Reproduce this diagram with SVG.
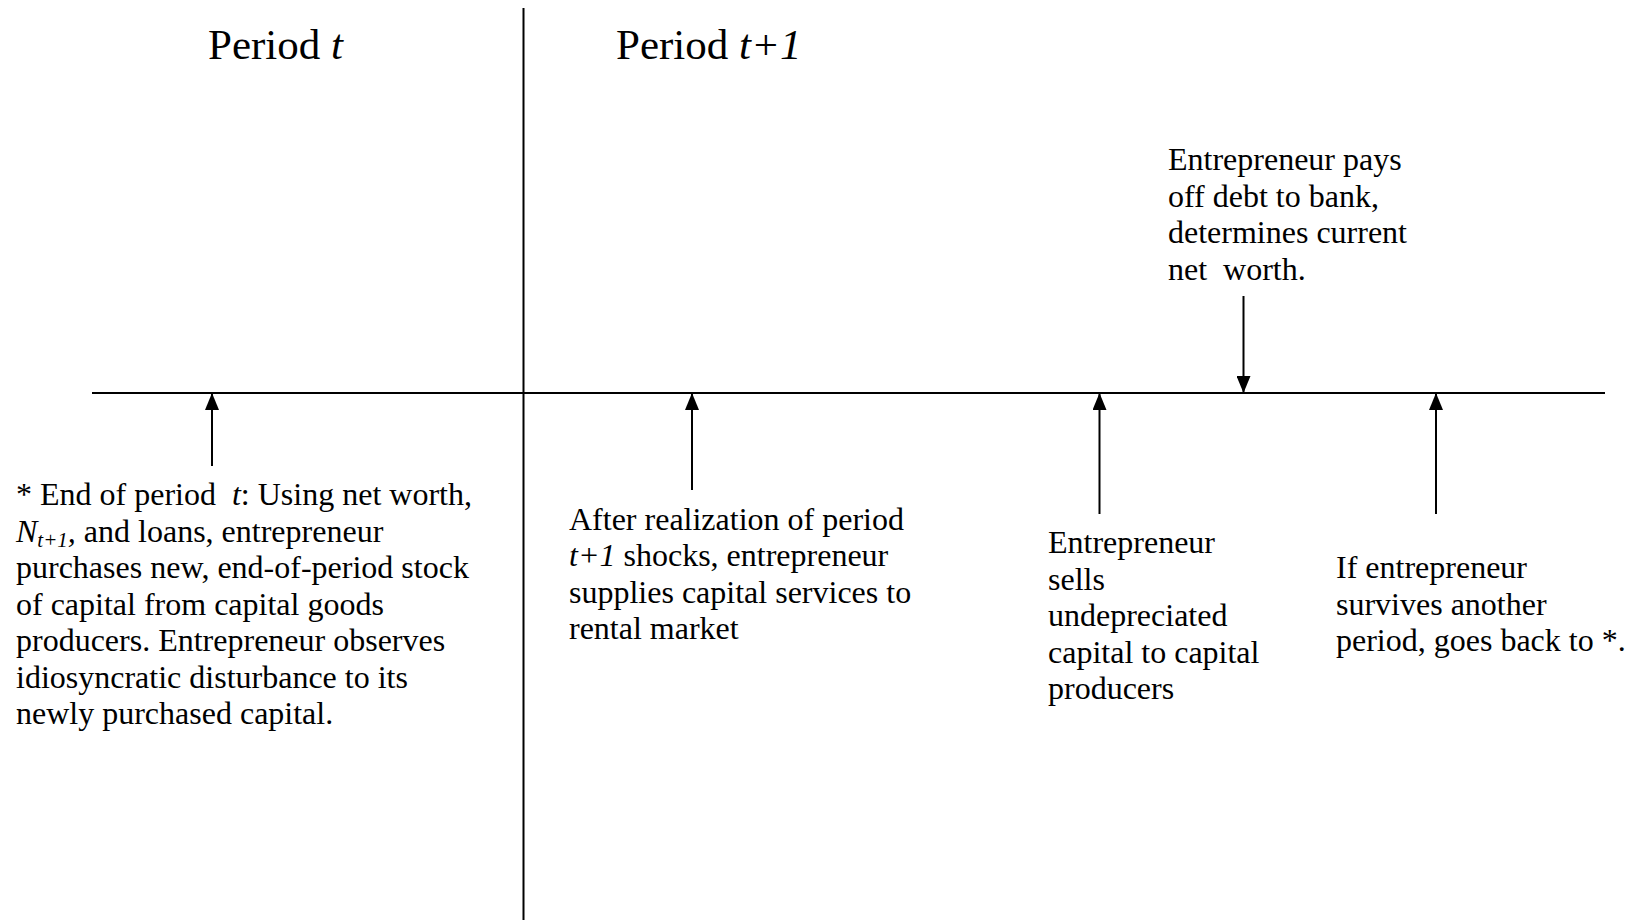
<svg xmlns="http://www.w3.org/2000/svg" width="1638" height="920" viewBox="0 0 1638 920">
  <style>
    text { font-family: "Liberation Serif", "Times New Roman", serif; fill: #000; }
    .title { font-size: 43px; }
    .body { font-size: 32px; }
    .it { font-style: italic; }
    .axis { stroke: #000; stroke-width: 2; fill: none; }
    .arrow { stroke: #000; stroke-width: 2; fill: none; marker-end: url(#head); }
  </style>
  <defs>
    <marker id="head" markerUnits="userSpaceOnUse" markerWidth="17" markerHeight="14" refX="17" refY="7" orient="auto">
      <path d="M0,0 L17,7 L0,14 z" fill="#000"/>
    </marker>
  </defs>
  <rect width="1638" height="920" fill="#fff"/>

  <g id="axes">
    <line class="axis" x1="523.5" y1="8" x2="523.5" y2="920"/>
    <line class="axis" x1="92" y1="393" x2="1605" y2="393"/>
  </g>

  <g id="title-t">
    <text class="title" x="208" y="59" xml:space="preserve">Period <tspan class="it">t</tspan></text>
  </g>
  <g id="title-t1">
    <text class="title" x="616" y="59" xml:space="preserve">Period <tspan class="it">t+1</tspan></text>
  </g>

  <g id="connectors">
    <line class="arrow" x1="212" y1="466" x2="212" y2="393"/>
    <line class="arrow" x1="692" y1="490" x2="692" y2="393"/>
    <line class="arrow" x1="1099.5" y1="514" x2="1099.5" y2="393"/>
    <line class="arrow" x1="1243.5" y1="296" x2="1243.5" y2="393"/>
    <line class="arrow" x1="1436" y1="514" x2="1436" y2="393"/>
  </g>

  <g id="node-end-of-period">
    <text class="body" xml:space="preserve">
      <tspan x="16" y="505">* End of period  <tspan class="it">t</tspan>: Using net worth,</tspan>
      <tspan x="16" y="541.5"><tspan class="it">N</tspan><tspan class="it" font-size="21" dy="5">t+1</tspan><tspan class="it" dy="-5">,</tspan> and loans, entrepreneur</tspan>
      <tspan x="16" y="578">purchases new, end-of-period stock</tspan>
      <tspan x="16" y="614.5">of capital from capital goods</tspan>
      <tspan x="16" y="651">producers. Entrepreneur observes</tspan>
      <tspan x="16" y="687.5">idiosyncratic disturbance to its</tspan>
      <tspan x="16" y="724">newly purchased capital.</tspan>
    </text>
  </g>

  <g id="node-realization">
    <text class="body" xml:space="preserve">
      <tspan x="569" y="529.5">After realization of period</tspan>
      <tspan x="569" y="566"><tspan class="it">t+1</tspan> shocks, entrepreneur</tspan>
      <tspan x="569" y="602.5">supplies capital services to</tspan>
      <tspan x="569" y="639">rental market</tspan>
    </text>
  </g>

  <g id="node-pays-debt">
    <text class="body" xml:space="preserve">
      <tspan x="1168" y="170">Entrepreneur pays</tspan>
      <tspan x="1168" y="206.5">off debt to bank,</tspan>
      <tspan x="1168" y="243">determines current</tspan>
      <tspan x="1168" y="279.5">net  worth.</tspan>
    </text>
  </g>

  <g id="node-sells">
    <text class="body" xml:space="preserve">
      <tspan x="1048" y="553">Entrepreneur</tspan>
      <tspan x="1048" y="589.5">sells</tspan>
      <tspan x="1048" y="626">undepreciated</tspan>
      <tspan x="1048" y="662.5">capital to capital</tspan>
      <tspan x="1048" y="699">producers</tspan>
    </text>
  </g>

  <g id="node-survives">
    <text class="body" xml:space="preserve">
      <tspan x="1336" y="578">If entrepreneur</tspan>
      <tspan x="1336" y="614.5">survives another</tspan>
      <tspan x="1336" y="651">period, goes back to *.</tspan>
    </text>
  </g>
</svg>
